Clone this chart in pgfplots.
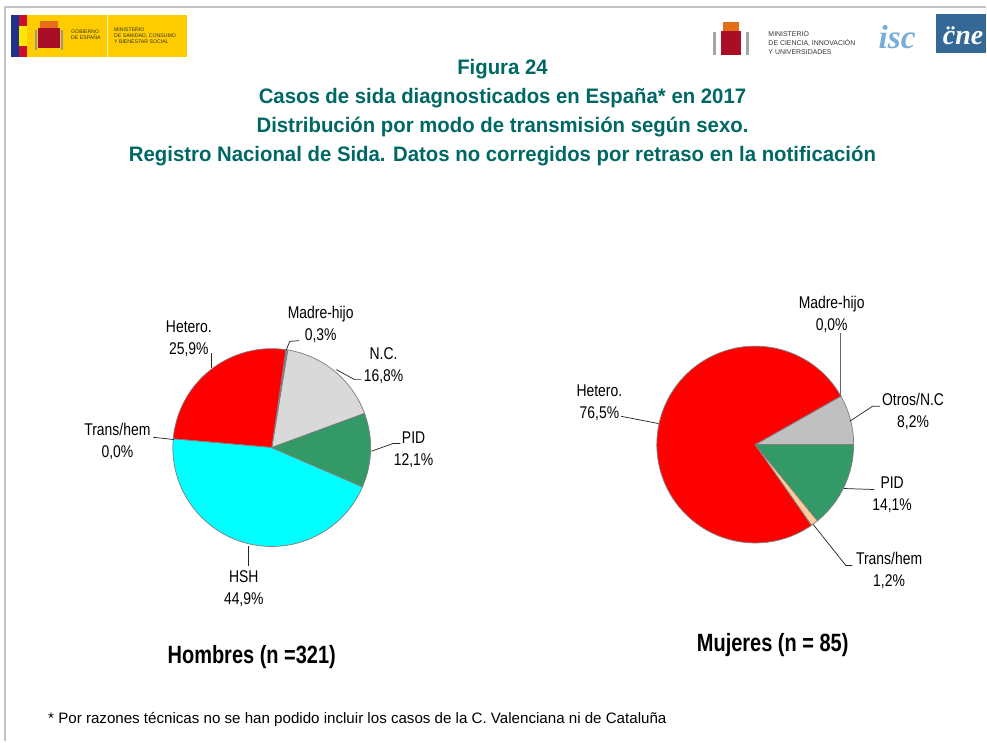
\documentclass[border=0pt]{standalone}
\usepackage{pgfplots}
\pgfplotsset{compat=1.18}
\usepackage{pgfplotstable}
\usepackage{fontspec}
\setmainfont{Liberation Sans}
\newfontfamily\narrowfont[FakeStretch=0.82]{Liberation Sans}
\newfontfamily\titlefont[FakeStretch=0.97]{Liberation Sans}
\newfontfamily\capfont[FakeStretch=0.80]{Liberation Sans}
\newfontfamily\logoserif{Liberation Serif}

\definecolor{titleteal}{RGB}{0,104,100}
\definecolor{cHet}{RGB}{255,0,0}
\definecolor{cHSH}{RGB}{0,255,255}
\definecolor{cPID}{RGB}{51,153,102}
\definecolor{cNC}{RGB}{217,217,217}
\definecolor{cOtros}{RGB}{192,192,192}
\definecolor{cMH}{RGB}{110,140,175}
\definecolor{cTH}{RGB}{255,204,153}
\definecolor{edgegray}{RGB}{128,128,128}
\definecolor{framegray}{RGB}{195,195,195}
\definecolor{logoyellow}{RGB}{255,204,0}
\definecolor{logoblue}{RGB}{30,50,140}
\definecolor{logored}{RGB}{200,16,46}
\definecolor{iscblue}{RGB}{120,175,215}
\definecolor{cneblue}{RGB}{52,104,150}

% Hombres (n=321): percentages, counter-clockwise from the start angle
\pgfplotstableread{
value col
16.8  cNC
0.3   cMH
25.9  cHet
0.0   cTH
44.9  cHSH
12.1  cPID
}\hombres
% Mujeres (n=85)
\pgfplotstableread{
value col
8.2   cOtros
0.0   cMH
76.5  cHet
1.2   cTH
14.1  cPID
}\mujeres

\newcommand{\drawpie}[5]{% table, cx, cy, radius(px), start angle
  \pgfplotstablegetrowsof{#1}%
  \pgfmathtruncatemacro\nrows{\pgfplotsretval-1}%
  \pgfmathsetmacro\angA{#5}%
  \pgfmathsetmacro\rad{0.75*#4}%
  \pgfplotsforeachungrouped \i in {0,...,\nrows}{%
    \pgfplotstablegetelem{\i}{value}\of{#1}\let\val\pgfplotsretval
    \pgfplotstablegetelem{\i}{col}\of{#1}\let\col\pgfplotsretval
    \pgfmathsetmacro\angB{\angA+3.6*\val}%
    \pgfmathsetmacro\sx{#2+#4*cos(\angA)}%
    \pgfmathsetmacro\sy{#3-#4*sin(\angA)}%
    \edef\temp{\noexpand\filldraw[fill=\col, draw=edgegray, line width=0.55pt, line join=round]
      (#2,#3) -- (\sx,\sy) arc[start angle=\angA, end angle=\angB, radius=\rad pt] -- cycle;}%
    \temp
    \let\angA\angB
  }%
}

\tikzset{
  lab/.style={align=center, inner sep=0pt, font=\narrowfont\fontsize{12.75}{16.5}\selectfont},
  lead/.style={draw=black!85, line width=0.55pt},
}

\begin{document}
\begin{tikzpicture}
\begin{axis}[
  x=0.75pt, y=0.75pt,
  xmin=0, xmax=987, ymin=0, ymax=742,
  y dir=reverse,
  scale only axis, hide axis, clip=false,
]
\path (0,0) rectangle (987,742);

% slide frame
\draw[framegray, line width=1.5pt] (5,742) -- (5,7) -- (987,7);

% ---- left logo
\fill[logoyellow] (11,15) rectangle (187,57);
\fill[logoblue] (11,15) rectangle (19,57);
\fill[logored] (19,15) rectangle (27,57);
\fill[yellow!90!orange] (19,26) rectangle (27,46);
\draw[white!80!logoyellow, line width=0.5pt] (107,15) -- (107,57);
\fill[logored!85!black] (38,28) rectangle (60,48);
\fill[logored!50!logoyellow] (40,21) rectangle (58,28);
\fill[black!40] (35,30) rectangle (37,50);
\fill[black!40] (61,30) rectangle (63,50);
\node[anchor=west, inner sep=0pt, align=left, font=\fontsize{3.9}{4.6}\selectfont, text=black!80] at (71,35) {GOBIERNO\\DE ESPAÑA};
\node[anchor=west, inner sep=0pt, align=left, font=\fontsize{3.9}{4.6}\selectfont, text=black!80] at (114,36) {MINISTERIO\\DE SANIDAD, CONSUMO\\Y BIENESTAR SOCIAL};

% ---- right logos
\fill[logored!85!black] (722,31) rectangle (742,55);
\fill[logored!50!logoyellow] (724,22) rectangle (740,31);
\fill[black!35] (714,32) rectangle (717,55);
\fill[black!35] (747,32) rectangle (750,55);
\node[anchor=west, inner sep=0pt, align=left, font=\fontsize{5.2}{6.8}\selectfont, text=black!80] at (769,43) {MINISTERIO\\DE CIENCIA, INNOVACIÓN\\Y UNIVERSIDADES};
\node[anchor=center, inner sep=0pt, text=iscblue, font=\logoserif\bfseries\itshape\fontsize{25}{25}\selectfont] at (898,37) {isc};
\fill[cneblue] (937,14) rectangle (987,53);
\node[anchor=center, inner sep=0pt, text=white, font=\logoserif\bfseries\itshape\fontsize{21}{21}\selectfont] at (964,36) {c̈ne};

% ---- titles
\node[anchor=base, text=titleteal, font=\titlefont\bfseries\fontsize{15.75}{18}\selectfont] at (503,75) {Figura 24};
\node[anchor=base, text=titleteal, font=\titlefont\bfseries\fontsize{15.75}{18}\selectfont] at (503,104) {Casos de sida diagnosticados en España* en 2017};
\node[anchor=base, text=titleteal, font=\titlefont\bfseries\fontsize{15.75}{18}\selectfont] at (503,133) {Distribución por modo de transmisión según sexo.};
\node[anchor=base, text=titleteal, font=\titlefont\bfseries\fontsize{15.75}{18}\selectfont] at (503,162) {Registro Nacional de Sida. Datos no corregidos por retraso en la notificación};

% ---- pies
\drawpie{\hombres}{272}{448}{99}{20.2}
\drawpie{\mujeres}{756}{445}{98.5}{0}

% ---- left labels
\draw[lead] (211.7,368.3) -- (211.7,353.3);
\node[lab] at (189,339) {Hetero.\\25,9\%};
\draw[lead] (286.7,350) -- (290,341.7) -- (299.3,341);
\node[lab] at (321,325) {Madre-hijo\\0,3\%};
\draw[lead] (336.7,370) -- (355,380) -- (361.7,380);
\node[lab] at (384,366) {N.C.\\16,8\%};
\draw[lead] (371.7,451.7) -- (393.3,444) -- (400.7,444);
\node[lab] at (414,450) {PID\\12,1\%};
\draw[lead] (248.3,546.7) -- (248.3,566.7);
\node[lab] at (244,589) {HSH\\44,9\%};
\draw[lead] (153.3,437.7) -- (174.3,440);
\node[lab] at (117.5,442) {Trans/hem\\0,0\%};

% ---- right labels
\draw[lead, draw=black!60] (841.7,333.3) -- (841.7,397.3);
\node[lab] at (832.5,315) {Madre-hijo\\0,0\%};
\draw[lead] (621.7,416.7) -- (659.3,424);
\node[lab] at (600,403) {Hetero.\\76,5\%};
\draw[lead] (850.7,421.7) -- (873.3,406.7) -- (880.7,406.7);
\node[lab] at (914,411.7) {Otros/N.C\\8,2\%};
\draw[lead] (845,489) -- (875,490);
\node[lab] at (893,495) {PID\\14,1\%};
\draw[lead] (814,525) -- (846.7,566) -- (853.3,566);
\node[lab] at (890,571) {Trans/hem\\1,2\%};

% ---- captions
\node[anchor=base, inner sep=0pt, font=\capfont\bfseries\fontsize{18.75}{20}\selectfont] at (252,664) {Hombres (n =321)};
\node[anchor=base, inner sep=0pt, font=\capfont\bfseries\fontsize{18.75}{20}\selectfont] at (773.5,652) {Mujeres (n = 85)};

% ---- footnote
\node[anchor=base west, inner sep=0pt, font=\fontsize{11.35}{13}\selectfont] at (48,724) {* Por razones técnicas no se han podido incluir los casos de la C. Valenciana ni de Cataluña};
\end{axis}
\end{tikzpicture}
\end{document}
